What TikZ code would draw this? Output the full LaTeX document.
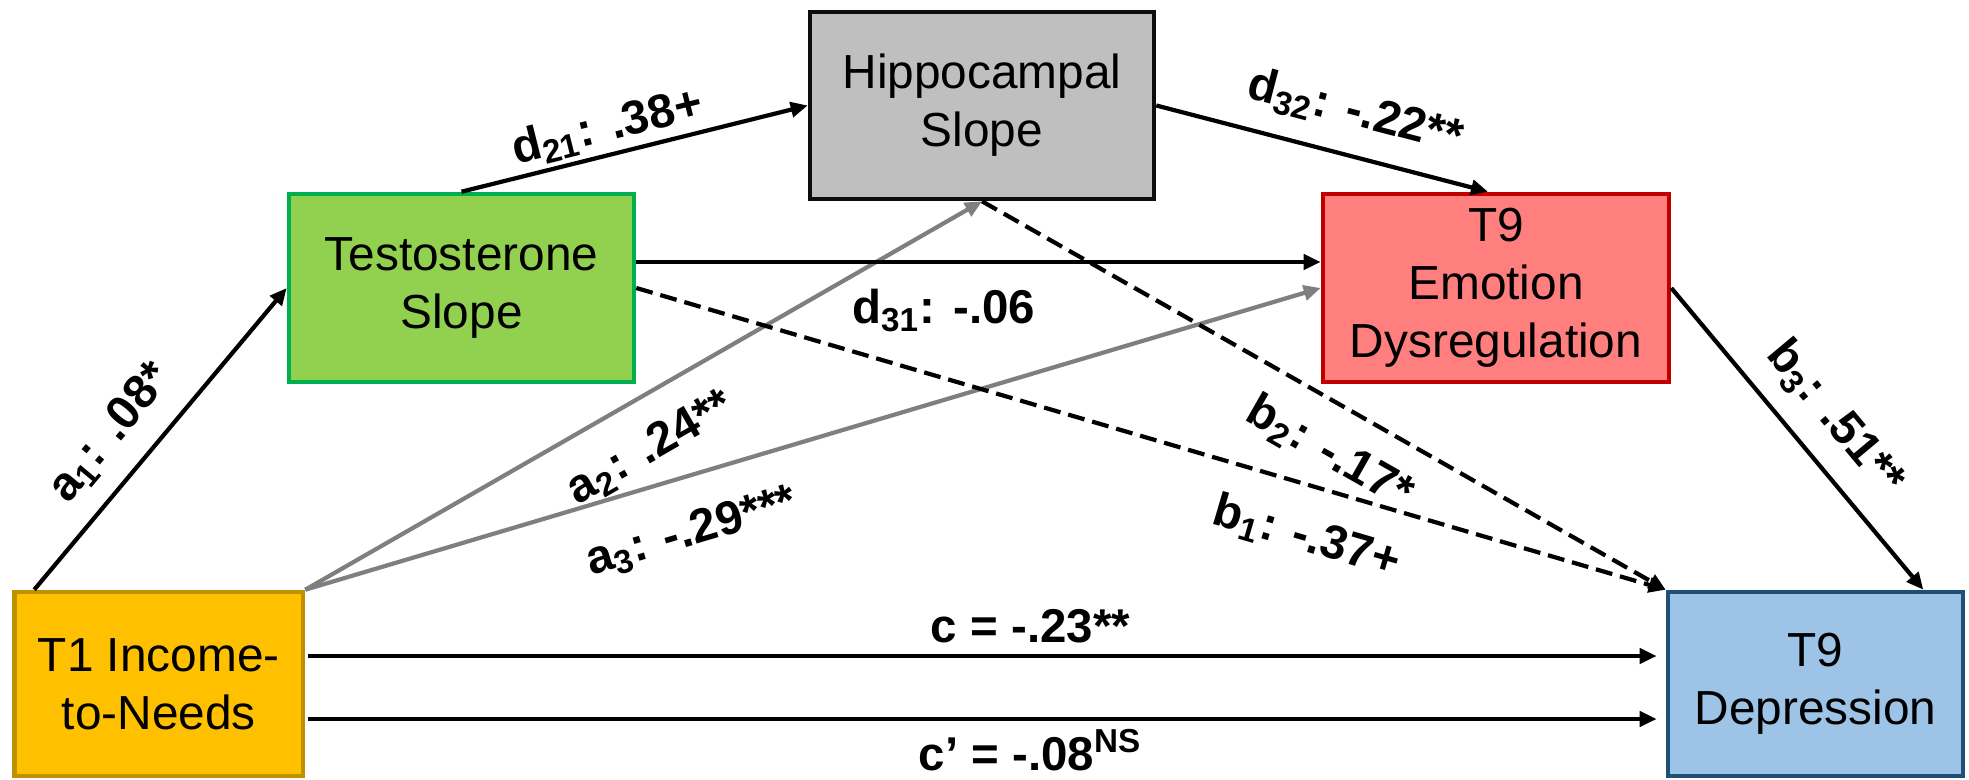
\documentclass[tikz,border=0pt]{standalone}
\usepackage{fontspec}
\setmainfont{Liberation Sans}
\usepackage{xcolor}
\usetikzlibrary{arrows.meta}

\definecolor{incfill}{HTML}{FFC000}
\definecolor{incline}{HTML}{BF9000}
\definecolor{tesfill}{HTML}{92D050}
\definecolor{tesline}{HTML}{00B050}
\definecolor{hipfill}{HTML}{BFBFBF}
\definecolor{hipline}{HTML}{0D0D0D}
\definecolor{emofill}{HTML}{FF7F7F}
\definecolor{emoline}{HTML}{C00000}
\definecolor{depfill}{HTML}{9DC3E6}
\definecolor{depline}{HTML}{1F4E79}
\definecolor{linegray}{HTML}{7F7F7F}

\begin{document}
\begin{tikzpicture}[
    box/.style={draw, line width=1.3pt, inner sep=0pt, align=center,
                font=\fontsize{13.6}{16.5}\selectfont},
    arr/.style={-{Triangle[length=0.17cm, width=0.15cm]}, line width=1.2pt},
    grayarr/.style={arr, draw=linegray},
    dasharr/.style={arr, dash pattern=on 0.17cm off 0.08cm},
    lbl/.style={font=\bfseries\fontsize{13.5}{15}\selectfont, inner sep=0pt, sloped}
]
\useasboundingbox (0,0) rectangle (19.69,7.79);

        % Define boxes
        \node[box, fill=incfill, draw=incline, minimum width=2.885cm, minimum height=1.84cm] (inc) at (1.5875, 0.95) {T1 Income-\\to-Needs};
        \node[box, fill=tesfill, draw=tesline, minimum width=3.45cm, minimum height=1.88cm] (tes) at (4.615, 4.91) {Testosterone\\Slope};
        \node[box, fill=hipfill, draw=hipline, minimum width=3.44cm, minimum height=1.87cm] (hip) at (9.82, 6.735) {Hippocampal\\Slope};
        \node[box, fill=emofill, draw=emoline, minimum width=3.46cm, minimum height=1.88cm] (emo) at (14.96, 4.91) {T9\\Emotion\\Dysregulation};
        \node[box, fill=depfill, draw=depline, minimum width=2.95cm, minimum height=1.84cm] (dep) at (18.155, 0.95) {T9\\Depression};

        % Draw a paths (income to mediators)
        \draw[arr] ([xshift=0.22cm]inc.north west) -- (tes.west)
            node[lbl, pos=0.43, above=0.19cm] {a\textsubscript{1}: .08*};
        \draw[grayarr] (inc.north east) -- (hip.south)
            node[lbl, pos=0.474, below=0.27cm] {a\textsubscript{2}: .24**};
        \draw[grayarr] (inc.north east) -- (emo.west)
            node[lbl, pos=0.365, below=0.33cm] {a\textsubscript{3}: -.29***};

        % Draw d paths (between mediators)
        \draw[arr] (tes.north) -- (hip.west)
            node[lbl, pos=0.44, above=0.04cm] {d\textsubscript{21}: .38+};
        \draw[arr] (hip.east) -- ([xshift=-0.08cm]emo.north)
            node[lbl, pos=0.566, above=0.2cm] {d\textsubscript{32}: -.22**};
        \draw[arr] ([yshift=0.26cm]tes.east) -- ([yshift=0.26cm]emo.west)
            node[lbl, pos=0.449, below=0.25cm] {d\textsubscript{31}: -.06};

        % Draw b paths (mediators to depression)
        \draw[dasharr] (tes.east) -- (dep.north west)
            node[lbl, pos=0.665, below=0.28cm] {b\textsubscript{1}: -.37+};
        \draw[dasharr] (hip.south) -- (dep.north west)
            node[lbl, pos=0.543, below=0.24cm] {b\textsubscript{2}: -.17*};
        \draw[arr] (emo.east) -- ([xshift=-0.42cm]dep.north east)
            node[lbl, pos=0.52, above=0.19cm] {b\textsubscript{3}: .51**};

        % Draw total and direct effects
        \draw[arr, shorten <=0.03cm, shorten >=0.09cm] ([yshift=0.28cm]inc.east) -- ([yshift=0.28cm]dep.west)
            node[lbl, pos=0.533, above=0.11cm] {c = -.23**};
        \draw[arr, shorten <=0.03cm, shorten >=0.09cm] ([yshift=-0.35cm]inc.east) -- ([yshift=-0.35cm]dep.west)
            node[lbl, pos=0.533, below=0.08cm] {c' = -.08\textsuperscript{NS}};
\end{tikzpicture}
\end{document}
